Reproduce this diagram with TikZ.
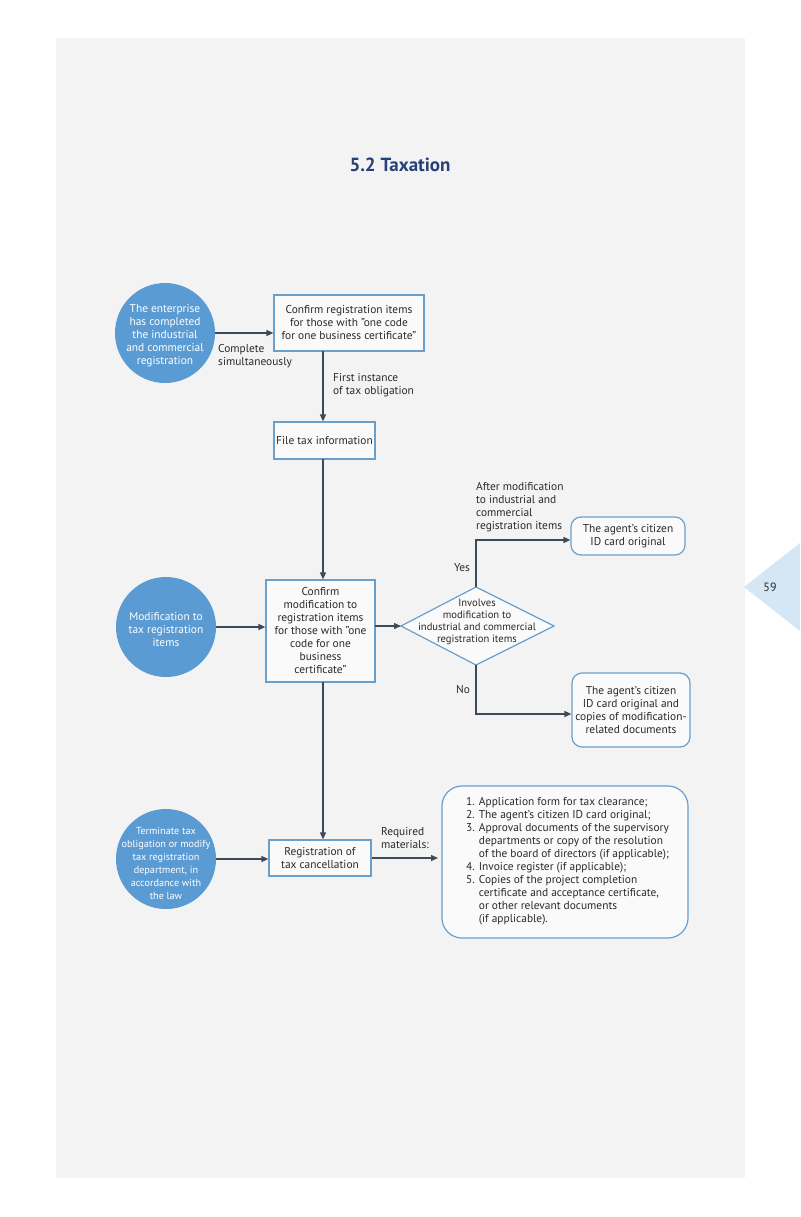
\documentclass[tikz,border=0pt]{standalone}
\usepackage{fontspec}
\setmainfont{PT Sans}
\usetikzlibrary{arrows.meta,shapes.geometric}
\definecolor{panel}{HTML}{F3F3F3}
\definecolor{circ}{HTML}{5B9BD3}
\definecolor{bord}{HTML}{6A9FCC}
\definecolor{arr}{HTML}{3E4A5B}
\definecolor{navy}{HTML}{27407A}
\definecolor{tri}{HTML}{D5E6F5}
\definecolor{txt}{HTML}{2A2A2A}
\tikzset{
  every node/.style={font=\fontsize{11.4}{13}\selectfont, text=txt},
  circnode/.style={circle, fill=circ, minimum size=100pt, inner sep=0pt},
  circtext/.style={align=center, text=white, inner sep=0pt},
  boxnode/.style={draw=bord, line width=1.2pt, fill=white!60!panel, align=center, inner sep=0pt},
  rbox/.style={draw=bord, line width=1.2pt, fill=white!60!panel, rounded corners=10pt, align=center, inner sep=0pt},
  flow/.style={draw=arr, line width=1.3pt, -{Triangle[length=7pt,width=6pt]}},
  lbl/.style={align=left, anchor=north west, inner sep=0pt},
}
\begin{document}
\begin{tikzpicture}[x=1pt,y=-1pt]
\useasboundingbox (0,0) rectangle (800,1217);
\fill[white] (0,0) rectangle (800,1217);
\fill[panel] (56,38) rectangle (745,1178);
\fill[tri] (744,587) -- (800,543) -- (800,631) -- cycle;
\node[font=\fontsize{12}{14}\selectfont] (pg) at (770,587) {59};
\node[font=\fontsize{19}{22}\bfseries\selectfont, text=navy] (title) at (400,165) {5.2 Taxation};

% row 1
\node[circnode] (c1) at (165,333) {};
\node[circtext] (c1t) at (165,336) {The enterprise\\has completed\\the industrial\\and commercial\\registration};
\node[boxnode, minimum width=150pt, minimum height=56pt] (b1) at (349,323) {Confirm registration items\\for those with "one code\\for one business certificate"};
\draw[flow] (c1.east) -- (b1.west |- c1.east);
\node[lbl] (l1) at (218,344) {Complete\\simultaneously};

\node[boxnode, minimum width=101pt, minimum height=37pt] (b2) at (324.5,440.5) {File tax information};
\coordinate (b1d) at (323,351);
\draw[flow] (b1d) -- (b2.north -| b1d);
\node[lbl] (l2) at (333,373) {First instance\\of tax obligation};

% row 2
\node[boxnode, minimum width=109pt, minimum height=102pt] (b3) at (320.5,631) {Confirm\\modification to\\registration items\\for those with "one\\code for one\\business\\certificate"};
\coordinate (b2d) at (323,459);
\draw[flow] (b2d) -- (b3.north -| b2d);
\node[circnode] (c2) at (166,627) {};
\node[circtext] (c2t) at (166,630) {Modification to\\tax registration\\items};
\draw[flow] (c2.east) -- (b3.west |- c2.east);

\coordinate (dW) at (401,626);
\coordinate (dN) at (476,587);
\coordinate (dE) at (554,626);
\coordinate (dS) at (476,665);
\draw[draw=bord, line width=1.2pt, fill=white!60!panel] (dW) -- (dN) -- (dE) -- (dS) -- cycle;
\node[align=center, font=\fontsize{10.6}{12}\selectfont] (d) at (477,622) {Involves\\modification to\\industrial and commercial\\registration items};
\coordinate (b3r) at (375,626);
\draw[flow] (b3r) -- (dW);

\node[rbox, minimum width=114pt, minimum height=38pt] (b4) at (628,536) {The agent's citizen\\ID card original};
\node[rbox, minimum width=118pt, minimum height=74pt] (b5) at (631,710) {The agent's citizen\\ID card original and\\copies of modification-\\related documents};
\draw[flow] (dN) -- (476,540) -- (b4.west |- 0,540);
\draw[flow] (dS) -- (476,714) -- (b5.west |- 0,714);
\node[anchor=center] (yes) at (462,568) {Yes};
\node[anchor=center] (no) at (463,690) {No};
\node[lbl] (l3) at (476,482) {After modification\\to industrial and\\commercial\\registration items};

% row 3
\node[boxnode, minimum width=102pt, minimum height=36pt] (b6) at (320,858) {Registration of\\tax cancellation};
\coordinate (b3d) at (323,682);
\draw[flow] (b3d) -- (b6.north -| b3d);
\node[circnode] (c3) at (166,859) {};
\node[circtext, font=\fontsize{10.2}{13}\selectfont] (c3t) at (166,863) {Terminate tax\\obligation or modify\\tax registration\\department, in\\accordance with\\the law};
\draw[flow] (c3.east) -- (b6.west |- c3.east);
\node[rbox, rounded corners=20pt, minimum width=246pt, minimum height=152pt] (b7) at (565,862) {};
\draw[flow] (b6.east |- 0,858) -- (438,858);
\node[lbl] (l4) at (381,827) {Required\\materials:};
\node[lbl] (list) at (466,797) {1. Application form for tax clearance;\\
2. The agent's citizen ID card original;\\
3. Approval documents of the supervisory\\
\hphantom{3. }departments or copy of the resolution\\
\hphantom{3. }of the board of directors (if applicable);\\
4. Invoice register (if applicable);\\
5. Copies of the project completion\\
\hphantom{5. }certificate and acceptance certificate,\\
\hphantom{5. }or other relevant documents\\
\hphantom{5. }(if applicable).};
\end{tikzpicture}
\end{document}
